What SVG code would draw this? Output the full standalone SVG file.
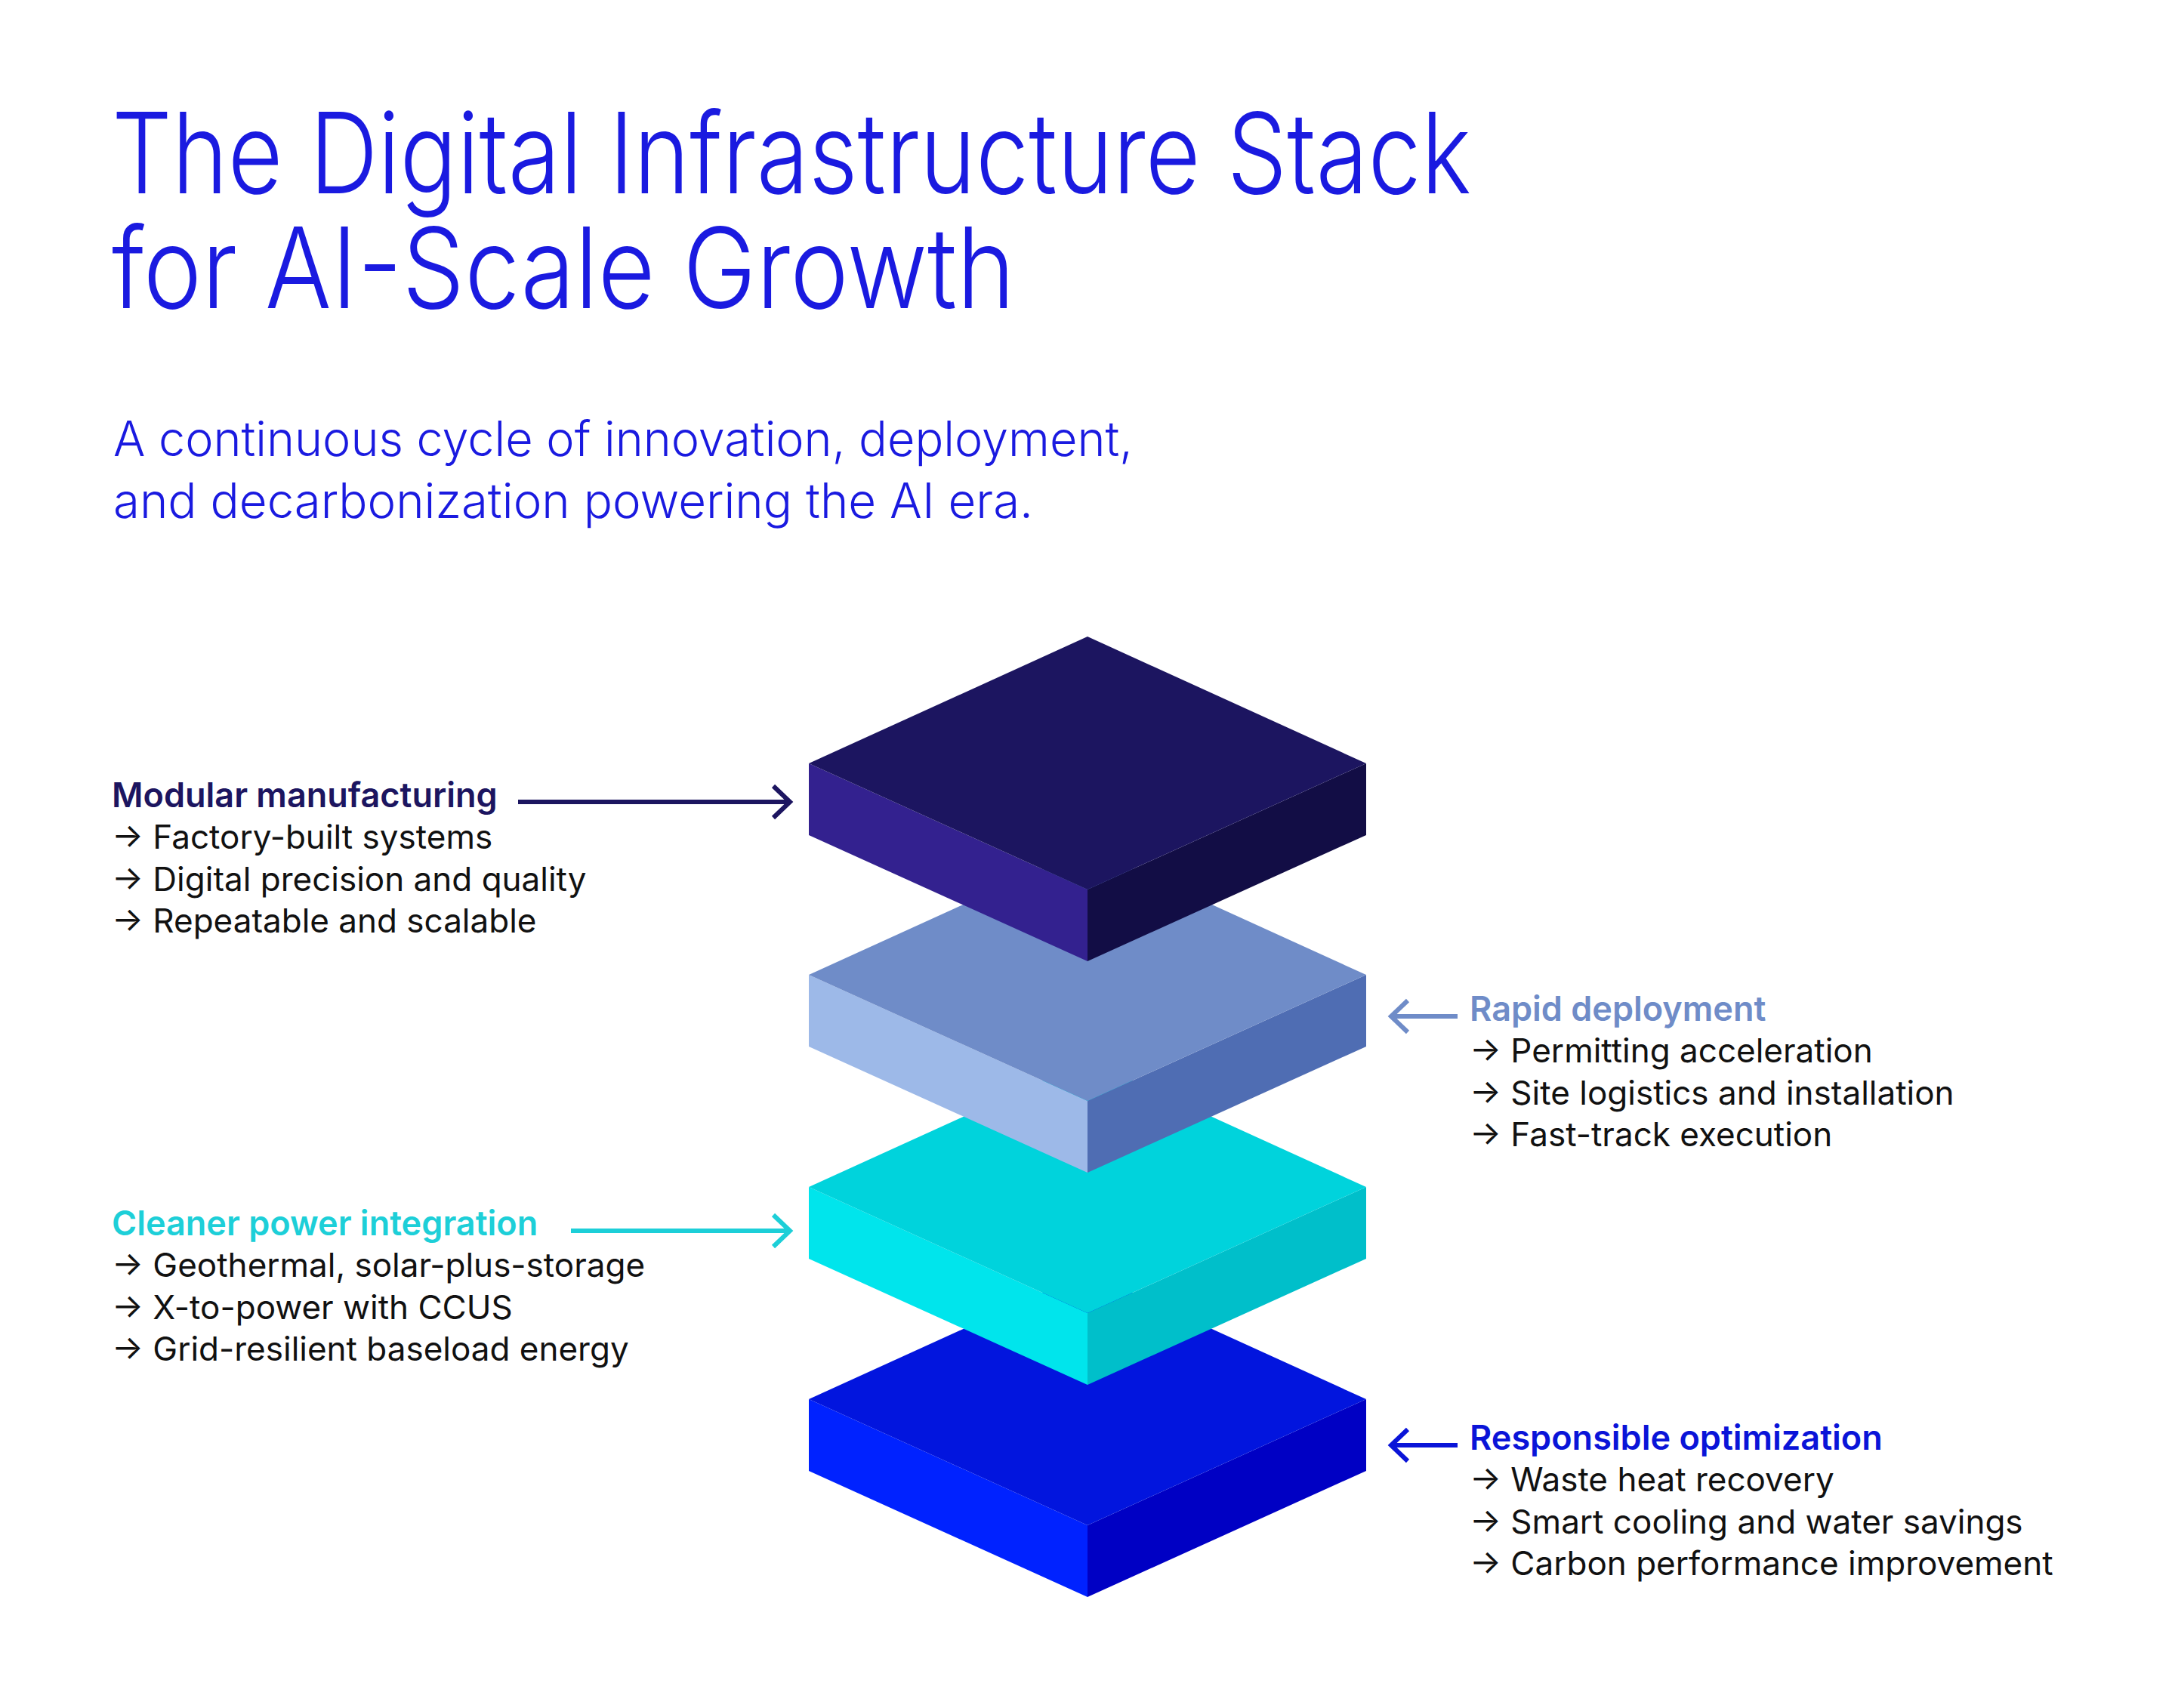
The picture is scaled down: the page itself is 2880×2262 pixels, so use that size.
<svg xmlns="http://www.w3.org/2000/svg" width="2880" height="2262" viewBox="0 0 2880 2262">
<style>
text{font-family:Inter,"Liberation Sans",sans-serif}
.t{font-size:148px;font-weight:300;fill:#1a1ae0}
.s{font-size:64px;font-weight:300;fill:#1a1ae0}
.h{font-size:45px;font-weight:600}
.b{font-size:44px;fill:#111}
.ln{fill:none;stroke-width:6}
</style>
<rect width="2880" height="2262" fill="#fff"/>
<text class="t" x="148" y="256" textLength="1800" lengthAdjust="spacingAndGlyphs">The Digital Infrastructure Stack</text>
<text class="t" x="148" y="408" textLength="1196" lengthAdjust="spacingAndGlyphs">for AI-Scale Growth</text>
<text class="s" x="150" y="604" textLength="1350" lengthAdjust="spacingAndGlyphs">A continuous cycle of innovation, deployment,</text>
<text class="s" x="150" y="686" textLength="1218" lengthAdjust="spacingAndGlyphs">and decarbonization powering the AI era.</text>

<g id="layer4" transform="translate(1440,1685)">
<polygon points="-369,168 0,335 0,430 -369,263" fill="#0022ff"/>
<polygon points="369,168 0,335 0,430 369,263" fill="#0000c4"/>
<polygon points="0,0 369,168 0,335 -369,168" fill="#0215de"/>
</g>
<g id="layer3" transform="translate(1440,1404)">
<polygon points="-369,168 0,335 0,430 -369,263" fill="#00e5ec"/>
<polygon points="369,168 0,335 0,430 369,263" fill="#00bfca"/>
<polygon points="0,0 369,168 0,335 -369,168" fill="#00d3dc"/>
</g>
<g id="layer2" transform="translate(1440,1123)">
<polygon points="-369,168 0,335 0,430 -369,263" fill="#9db9e8"/>
<polygon points="369,168 0,335 0,430 369,263" fill="#4f6db3"/>
<polygon points="0,0 369,168 0,335 -369,168" fill="#6f8cc8"/>
</g>
<g id="layer1" transform="translate(1440,843)">
<polygon points="-369,168 0,335 0,430 -369,263" fill="#33218f"/>
<polygon points="369,168 0,335 0,430 369,263" fill="#120d45"/>
<polygon points="0,0 369,168 0,335 -369,168" fill="#1c1560"/>
</g>

<g id="connectors">
<g stroke="#1c1560" class="ln"><line x1="686" y1="1062" x2="1046" y2="1062"/><polyline points="1024,1041 1046,1062 1024,1083"/></g>
<g stroke="#6f8cc8" class="ln"><line x1="1930" y1="1346" x2="1842" y2="1346"/><polyline points="1864,1325 1842,1346 1864,1367"/></g>
<g stroke="#1dcfd8" class="ln"><line x1="756" y1="1630" x2="1046" y2="1630"/><polyline points="1024,1609 1046,1630 1024,1651"/></g>
<g stroke="#0a14d8" class="ln"><line x1="1930" y1="1914" x2="1842" y2="1914"/><polyline points="1864,1893 1842,1914 1864,1935"/></g>
</g>

<g id="label-modular">
<text class="h" x="148" y="1069" fill="#1c1560">Modular manufacturing</text>
<text class="b" x="148" y="1124">→ Factory-built systems</text>
<text class="b" x="148" y="1180">→ Digital precision and quality</text>
<text class="b" x="148" y="1235">→ Repeatable and scalable</text>
</g>
<g id="label-rapid">
<text class="h" x="1946" y="1352" fill="#6f8cc8">Rapid deployment</text>
<text class="b" x="1946" y="1407">→ Permitting acceleration</text>
<text class="b" x="1946" y="1463">→ Site logistics and installation</text>
<text class="b" x="1946" y="1518">→ Fast-track execution</text>
</g>
<g id="label-cleaner">
<text class="h" x="148" y="1636" fill="#1dcfd8">Cleaner power integration</text>
<text class="b" x="148" y="1691">→ Geothermal, solar-plus-storage</text>
<text class="b" x="148" y="1747">→ X-to-power with CCUS</text>
<text class="b" x="148" y="1802">→ Grid-resilient baseload energy</text>
</g>
<g id="label-responsible">
<text class="h" x="1946" y="1920" fill="#0a14d8">Responsible optimization</text>
<text class="b" x="1946" y="1975">→ Waste heat recovery</text>
<text class="b" x="1946" y="2031">→ Smart cooling and water savings</text>
<text class="b" x="1946" y="2086">→ Carbon performance improvement</text>
</g>
</svg>
